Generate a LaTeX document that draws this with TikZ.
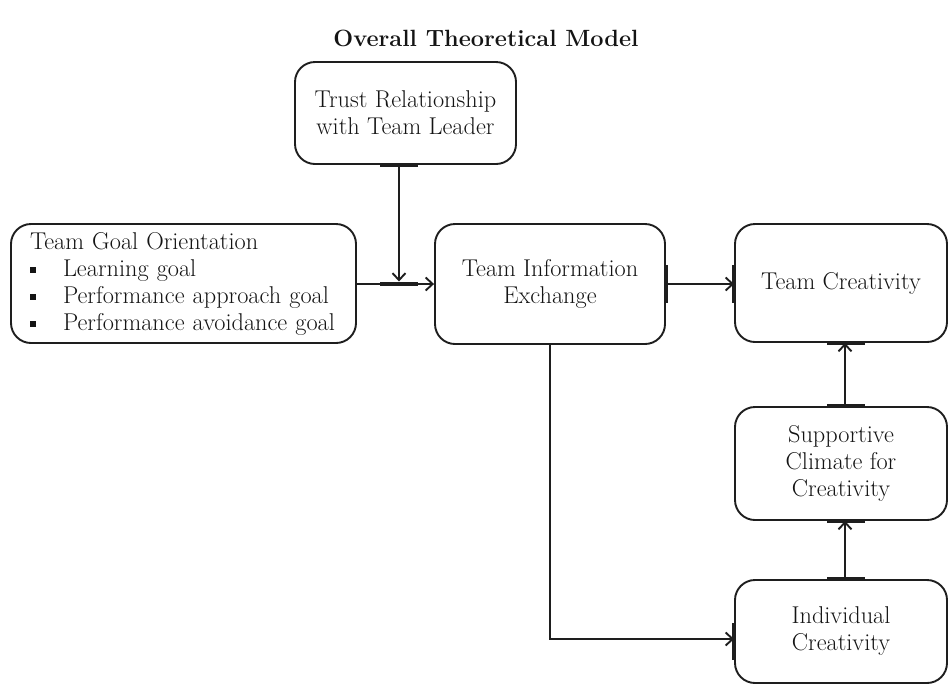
\documentclass[tikz,border=0pt]{standalone}
\usetikzlibrary{arrows.meta}
\definecolor{ink}{HTML}{1E1E1E}
\definecolor{words}{HTML}{141414}
\newcommand{\sqbullet}{\makebox[33pt][l]{\raisebox{3.5pt}{\rule{6pt}{6pt}}}}
\begin{document}
\begin{tikzpicture}[x=1pt,y=-1pt,
  txt/.style={font=\fontsize{24.3}{27}\selectfont, text=words},
  box/.style={txt, draw=ink, line width=1.9pt, rounded corners=20pt,
    align=center, inner sep=0pt},
  conn/.style={draw=ink, line width=1.9pt,
    -{Straight Barb[length=7pt,width=13pt,line width=1.9pt]}},
  port/.style={draw=ink, line width=4.5pt},
]
\useasboundingbox (0,0) rectangle (949,686);

% title
\node[txt, font=\fontsize{23.5}{27}\selectfont\bfseries] (title) at (486,38)
  {Overall Theoretical Model};

% boxes
\node[box, minimum width=221pt, minimum height=102pt] (trust) at (405.5,113)
  {Trust Relationship\\with Team Leader};
\node[box, align=left, text width=307pt, inner xsep=19pt,
      minimum width=345pt, minimum height=119pt] (goal) at (183.5,283.5)
  {Team Goal Orientation\\
   \sqbullet Learning goal\\
   \sqbullet Performance approach goal\\
   \sqbullet Performance avoidance goal};
\node[box, minimum width=230pt, minimum height=120pt] (tie) at (550,284)
  {Team Information\\Exchange};
\node[box, minimum width=212pt, minimum height=118pt] (tc) at (841,283)
  {Team Creativity};
\node[box, minimum width=212pt, minimum height=113pt] (scc) at (841,463.5)
  {Supportive\\Climate for\\Creativity};
\node[box, minimum width=212pt, minimum height=103pt] (ic) at (841,631.5)
  {Individual\\Creativity};

% junction where the trust path meets the goal path
\coordinate (j) at (399,284);

% connectors
\draw[conn] (j -| goal.east) -- (j -| tie.west);
\draw[conn] (trust.south -| j) -- ([yshift=2.5pt]j);
\draw[conn] (tie.east) -- (tie.east -| tc.west);
\draw[conn] (tie.south) |- ([yshift=-7.5pt]ic.west);
\draw[conn] ([xshift=4pt]ic.north) -- ([xshift=4pt]scc.south);
\draw[conn] ([xshift=4pt]scc.north) -- ([xshift=4pt]tc.south);

% heavy port marks
\draw[port] ([xshift=-25.5pt]trust.south) -- ([xshift=12.5pt]trust.south);
\draw[port] ([xshift=-19pt]j) -- ([xshift=19pt]j);
\draw[port] ([yshift=19pt]tie.east) -- ([yshift=-19pt]tie.east);
\draw[port] ([yshift=18pt]tc.west) -- ([yshift=-20pt]tc.west);
\draw[port] ([xshift=-14pt]tc.south) -- ([xshift=24pt]tc.south);
\draw[port] ([xshift=-14pt]scc.north) -- ([xshift=24pt]scc.north);
\draw[port] ([xshift=-14pt]scc.south) -- ([xshift=24pt]scc.south);
\draw[port] ([xshift=-14pt]ic.north) -- ([xshift=24pt]ic.north);
\draw[port] ([yshift=8.5pt]ic.west) -- ([yshift=-28.5pt]ic.west);
\end{tikzpicture}
\end{document}
